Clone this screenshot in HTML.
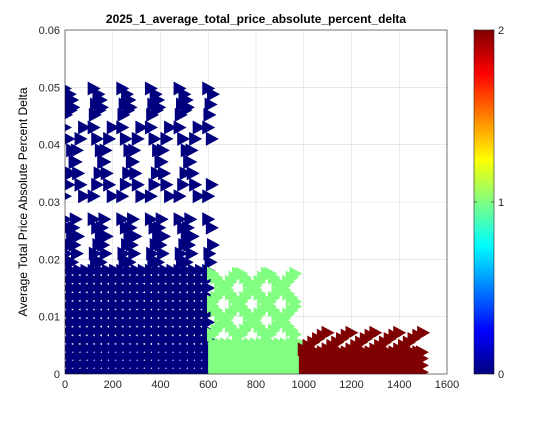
<!DOCTYPE html>
<html><head><meta charset="utf-8"><style>
body{margin:0;background:#fff;}
svg{font-family:"Liberation Sans",sans-serif;}
</style></head><body>
<svg id="chart" width="560" height="420" xmlns="http://www.w3.org/2000/svg">
<defs>
<linearGradient id="jet" x1="0" y1="1" x2="0" y2="0">
<stop offset="0" stop-color="#00007f"/><stop offset="0.125" stop-color="#0000ff"/>
<stop offset="0.375" stop-color="#00ffff"/><stop offset="0.625" stop-color="#ffff00"/>
<stop offset="0.875" stop-color="#ff0000"/><stop offset="1" stop-color="#7f0000"/>
</linearGradient>
<clipPath id="clip"><rect x="65" y="30" width="382" height="344"/></clipPath>
</defs>
<rect x="65" y="30" width="382" height="344" fill="#fff"/>
<g id="grid"></g>
<g id="marks" clip-path="url(#clip)"></g>
<g id="axes"></g>
<text x="256" y="23" text-anchor="middle" font-size="12" font-weight="bold">2025_1_average_total_price_absolute_percent_delta</text>
<text transform="translate(27,202) rotate(-90)" text-anchor="middle" font-size="12">Average Total Price Absolute Percent Delta</text>
<rect x="474" y="30" width="20" height="344" fill="url(#jet)" stroke="#262626" stroke-width="0.6"/>
<g id="cbticks"></g>
</svg>
<script>
const xTicks=[0,200,400,600,800,1000,1200,1400,1600];
const yTicks=[0,0.01,0.02,0.03,0.04,0.05,0.06];
const yTickLabels=["0","0.01","0.02","0.03","0.04","0.05","0.06"];
const cbTicks=[0,1,2];
// blue group
const blueCols=[0,120,240,360,480,600];
const blueTplDx=[0,20,30,10,25,5,35, 0,15,30,45,55,65,80, 80,65,50,40,25,15,0, 0,15,30,20,5, 45,35,55,40,50, 10,30];
const blueTplY=[0.0498,0.0488,0.0478,0.047,0.046,0.0452,0.0465, 0.043,0.041,0.039,0.037,0.035,0.033,0.031, 0.043,0.041,0.039,0.037,0.035,0.033,0.031, 0.027,0.0255,0.024,0.0225,0.021, 0.027,0.0255,0.024,0.0225,0.021, 0.0195,0.0195];
const blueBotX=[0,30,60,90,120,150,180,210,240,270,300,330,360,390,420,450,480,510,540,570,600];
const blueBotY=[0.0003,0.0017,0.0031,0.0045,0.006,0.0075,0.009,0.0105,0.012,0.0135,0.015,0.0165,0.018];
// green group
const greenBotX=[625,650,675,700,725,750,775,800,825,850,875,900,925,950,975,990];
const greenBotY=[0.0003,0.0015,0.0028,0.004,0.0052];
const greenCols=[620,740,860];
const greenTplDx=[0,15,30,45,60,75,90,105,105,90,75,60,45,30,15,0, 105,90,75,60,45,30,15,0,0,15,30,45,60,75,90,105];
const greenTplY=[0.0175,0.0168,0.0161,0.0154,0.0147,0.014,0.0133,0.0126,0.0118,0.0111,0.0104,0.0097,0.009,0.0083,0.0076,0.0069, 0.0175,0.0168,0.0161,0.0154,0.0147,0.014,0.0133,0.0126,0.0118,0.0111,0.0104,0.0097,0.009,0.0083,0.0076,0.0069];
// red group
const redBotX=[1005,1030,1055,1080,1105,1130,1155,1180,1205,1230,1255,1280,1305,1330,1355,1380,1405,1430,1455,1480,1495];
const redBotY=[0.0003,0.0015,0.0027,0.0038];
const redStripeX=[1000,1100,1200,1300,1400];
const redStripeDx=[0,20,40,60,80,100];
const redStripeY=[0.0043,0.0049,0.0055,0.0061,0.0067,0.0072];

const X0=65,X1=447,Y0=374,Y1=30;
const sx=v=>X0+(v/1600)*(X1-X0);
const sy=v=>Y0-(v/0.06)*(Y0-Y1);
const NS="http://www.w3.org/2000/svg";
const grid=document.getElementById('grid'),axes=document.getElementById('axes'),marks=document.getElementById('marks');
function mk(t,a,p){const e=document.createElementNS(NS,t);for(const k in a)e.setAttribute(k,a[k]);p.appendChild(e);return e;}
xTicks.forEach(t=>{
 const x=sx(t);
 const g=mk('line',{x1:x,y1:Y1,x2:x,y2:Y0,stroke:'#dcdcdc','stroke-width':0.6},grid);
 
 
 const l=mk('text',{x:x,y:388,'text-anchor':'middle','font-size':11,fill:'#262626'},axes);l.textContent=t;
 
 
});
yTicks.forEach((t,i)=>{
 const y=sy(t);
 const g=mk('line',{x1:X0,y1:y,x2:X1,y2:y,stroke:'#dcdcdc','stroke-width':0.6},grid);
 
 
 const l=mk('text',{x:60,y:y+4,'text-anchor':'end','font-size':11,fill:'#262626'},axes);l.textContent=yTickLabels[i];
 
 
});
const frame=mk('rect',{x:X0,y:Y1,width:X1-X0,height:Y0-Y1,fill:'none',stroke:'#262626','stroke-width':0.6},axes);


function tri(x,y,c,name){
 const px=sx(x),py=sy(y);
 const p=mk('polygon',{points:`${px-6},${py-7} ${px+7},${py} ${px-6},${py+7}`,fill:c},marks);
 
 
}
const BL='#00007f',GR='#80ff80',RD='#7f0000';
blueBotY.forEach(y=>blueBotX.forEach(x=>tri(x,y,BL,'blue-point')));
blueCols.forEach(c=>blueTplDx.forEach((d,i)=>{if(c+d<=620)tri(c+d,blueTplY[i],BL,'blue-point');}));
greenBotY.forEach(y=>greenBotX.forEach(x=>tri(x,y,GR,'green-point')));
greenCols.forEach(c=>greenTplDx.forEach((d,i)=>tri(c+d,greenTplY[i],GR,'green-point')));
redBotY.forEach(y=>redBotX.forEach(x=>tri(x,y,RD,'red-point')));
redStripeX.forEach(c=>redStripeDx.forEach((d,i)=>tri(c+d,redStripeY[i],RD,'red-point')));
const cb=document.getElementById('cbticks');
cbTicks.forEach(t=>{
 const y=374-(t/2)*344;
 mk('line',{x1:474,y1:y,x2:477,y2:y,stroke:'#262626','stroke-width':0.6},cb);
 mk('line',{x1:491,y1:y,x2:494,y2:y,stroke:'#262626','stroke-width':0.6},cb);
 const l=mk('text',{x:498,y:y+4,'font-size':11,fill:'#262626'},cb);l.textContent=t;
 
 
});
</script>
</body></html>
